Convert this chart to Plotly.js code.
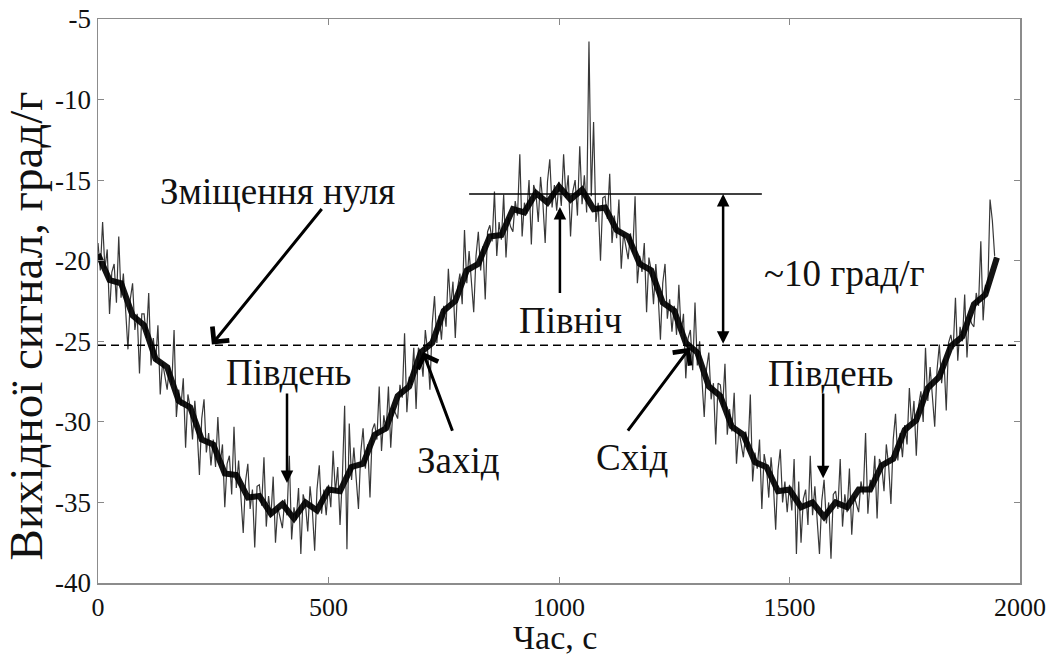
<!DOCTYPE html>
<html>
<head>
<meta charset="utf-8">
<script src="https://cdn.plot.ly/plotly-3.0.1.min.js"></script>
<style>html,body{margin:0;padding:0;background:#fff;}#chart{width:1056px;height:657px;}</style>
</head>
<body>
<div id="chart"></div>
<script>
// ---- data ----
const timeStart = 0;      // s
const timeStep = 5;       // s between raw samples
const signalValues = [
-18.9,-20.6,-17.6,-20.5,-19.3,-23.3,-20.7,-20.2,-22.6,-18.5,
-22.3,-20.8,-23.1,-25.5,-22.4,-21.4,-24.3,-23.3,-27.0,-23.3,
-23.3,-24.8,-22.0,-26.5,-24.8,-26.3,-24.0,-28.3,-26.3,-27.2,
-28.0,-26.5,-27.7,-24.3,-29.7,-28.0,-29.0,-27.3,-31.6,-28.3,
-29.1,-31.1,-28.7,-30.5,-33.3,-29.8,-28.6,-31.9,-30.7,-32.7,
-31.1,-32.8,-29.7,-32.6,-31.4,-35.3,-32.6,-32.1,-34.5,-30.3,
-34.1,-32.4,-34.7,-36.9,-33.7,-32.6,-35.4,-34.2,-37.8,-34.0,
-33.9,-35.2,-32.2,-36.5,-34.6,-35.9,-33.4,-37.5,-35.3,-36.0,
-36.6,-34.8,-35.8,-32.1,-37.3,-35.3,-36.1,-34.1,-38.2,-34.5,
-35.1,-36.8,-34.0,-35.5,-38.0,-34.2,-32.7,-35.7,-34.2,-35.8,
-33.9,-35.3,-31.8,-34.4,-32.8,-36.4,-33.5,-29.0,-37.9,-30.1,
-33.6,-31.6,-33.5,-35.4,-31.9,-30.4,-32.9,-31.4,-34.7,-30.5,
-30.1,-31.1,-27.8,-31.8,-29.6,-30.6,-27.8,-31.6,-29.1,-29.5,
-29.8,-27.7,-28.5,-24.5,-29.4,-27.2,-27.7,-25.4,-29.2,-25.4,
-25.7,-27.2,-24.3,-25.6,-28.0,-23.9,-22.2,-25.1,-23.4,-24.9,
-22.8,-24.1,-20.5,-22.9,-21.3,-24.8,-21.7,-20.8,-22.7,-18.1,
-21.4,-19.4,-21.3,-23.2,-19.7,-18.2,-20.6,-19.1,-22.4,-18.2,
-17.8,-18.8,-15.7,-19.7,-17.6,-18.7,-15.9,-19.8,-17.3,-17.9,
-18.2,-16.3,-17.2,-13.4,-18.5,-16.4,-17.1,-15.0,-19.0,-15.3,
-15.8,-17.6,-14.8,-16.4,-18.9,-15.1,-13.7,-16.7,-15.3,-16.9,
-15.1,-16.6,-13.4,-16.1,-14.7,-18.5,-15.7,-15.0,-17.2,-12.9,
-16.5,-14.7,-17.0,-6.4,-16.0,-11.4,-17.6,-16.4,-20.0,-16.1,
-16.0,-17.4,-14.6,-18.9,-17.2,-18.6,-16.2,-20.5,-18.3,-19.2,
-19.9,-18.3,-19.5,-16.0,-21.4,-19.7,-20.7,-18.9,-23.2,-19.8,
-20.6,-22.7,-20.2,-22.1,-24.9,-21.4,-20.2,-23.6,-22.4,-24.4,
-22.8,-24.6,-21.5,-24.5,-23.3,-27.3,-24.8,-24.3,-26.8,-22.6,
-26.5,-25.0,-27.3,-29.7,-26.7,-25.7,-28.6,-27.6,-31.4,-27.6,
-27.7,-29.1,-26.4,-30.8,-29.2,-30.6,-28.2,-32.6,-30.5,-31.5,
-32.2,-30.6,-31.8,-28.3,-33.7,-31.9,-32.9,-31.1,-35.4,-32.0,
-32.8,-34.7,-32.2,-33.9,-36.7,-33.0,-31.7,-35.0,-33.7,-35.6,
-33.9,-35.5,-32.3,-38.2,-33.7,-37.5,-34.8,-34.2,-36.4,-32.1,
-35.8,-34.0,-36.1,-38.2,-34.9,-33.6,-36.3,-35.0,-38.5,-34.5,
-34.3,-35.4,-32.3,-36.5,-34.5,-35.6,-32.9,-37.0,-34.6,-35.2,
-35.6,-33.7,-34.5,-30.7,-35.7,-33.6,-34.2,-32.1,-36.0,-32.3,
-32.7,-34.3,-31.4,-32.7,-35.1,-31.1,-29.5,-32.4,-30.7,-32.2,
-30.2,-31.4,-27.9,-30.3,-28.7,-32.1,-29.0,-28.1,-30.0,-25.4,
-28.7,-26.6,-28.5,-30.3,-26.8,-25.2,-27.6,-26.1,-29.3,-25.1,
-24.6,-25.5,-22.3,-26.2,-24.1,-25.0,-22.1,-26.0,-23.4,-23.9,
-24.1,-22.0,-22.8,-18.8,-23.7,-21.5,-22.0,-16.2,-17.5,-19.7
];
// dense dark core of the noisy band, read every 25 s
const coreStep = 25;
const coreValues = [
-19.6,-21.2,-21.4,-23.4,-24.0,-26.1,-26.6,-28.7,-29.1,-31.1,
-31.4,-33.2,-33.3,-34.7,-34.6,-35.7,-35.1,-36.0,-35.0,-35.5,
-34.2,-34.3,-32.8,-32.6,-30.8,-30.4,-28.4,-27.8,-25.7,-25.1,
-23.1,-22.5,-20.6,-20.2,-18.5,-18.4,-16.8,-17.0,-15.8,-16.4,
-15.4,-16.2,-15.6,-16.8,-16.7,-18.1,-18.5,-20.2,-20.6,-22.6,
-23.1,-25.1,-25.7,-27.8,-28.4,-30.3,-30.8,-32.5,-32.8,-34.3,
-34.2,-35.3,-35.0,-35.9,-35.0,-35.3,-34.2,-34.2,-32.7,-32.3,
-30.5,-29.9,-27.9,-27.2,-25.3,-24.7,-22.7,-22.1,-19.8
];
const xTickVals = [0, 500, 1000, 1500, 2000];
const yTickVals = [-40, -35, -30, -25, -20, -15, -10, -5];
const yTickText = ['-40', '-35', '-30', '-25', '-20', '-15', '-10', '-5'];
const xTitle = 'Час, с';
const yTitle = 'Вихідної сигнал, град/г';
const zeroOffsetLevel = -25.25;     // dashed line
const northLevel = -15.86;          // solid reference line
const northLineSpan = [805, 1440];
const amplitudeArrowTime = 1356;
const textLabels = ['Зміщення нуля', 'Південь', 'Північ', 'Захід', 'Схід', 'Південь', '~10 град/г'];
const textX = [390, 414, 1026, 781, 1158, 1588, 1620];
const textY = [-15.73, -26.96, -23.7, -32.4, -32.2, -26.97, -20.77];
// arrows: [tailX, tailY, headX, headY]
const openArrows = [[488, -16.7, 247, -25.2], [770, -30.64, 705, -25.67], [1147, -30.64, 1284, -25.4]];
const filledArrows = [[410, -28.15, 410, -33.8], [1002, -22.1, 1002, -16.66], [1573, -28.15, 1573, -33.5]];

const serif = 'Liberation Serif';

const noiseTrace = {
  type: 'scatter', mode: 'lines',
  x0: timeStart, dx: timeStep, y: signalValues,
  line: {color: '#383838', width: 1.2},
  hoverinfo: 'skip', showlegend: false
};
const coreTrace = {
  type: 'scatter', mode: 'lines',
  x0: timeStart, dx: coreStep, y: coreValues,
  line: {color: '#000', width: 6},
  opacity: 0.92,
  hoverinfo: 'skip', showlegend: false
};

const annotations = [];
textLabels.forEach((t, i) => annotations.push({
  x: textX[i], y: textY[i], xref: 'x', yref: 'y', text: t, showarrow: false,
  xanchor: 'center', yanchor: 'middle', font: {family: serif, size: 37, color: '#111'}
}));
openArrows.forEach(a => annotations.push({
  x: a[2], y: a[3], ax: a[0], ay: a[1], xref: 'x', yref: 'y', axref: 'x', ayref: 'y',
  text: '', showarrow: true, arrowhead: 4, arrowsize: 1.4, arrowwidth: 3, arrowcolor: '#000', standoff: 0
}));
filledArrows.forEach(a => annotations.push({
  x: a[2], y: a[3], ax: a[0], ay: a[1], xref: 'x', yref: 'y', axref: 'x', ayref: 'y',
  text: '', showarrow: true, arrowhead: 2, arrowsize: 1, arrowwidth: 2.5, arrowcolor: '#000', standoff: 0
}));
annotations.push({
  x: amplitudeArrowTime, y: northLevel, ax: amplitudeArrowTime, ay: zeroOffsetLevel,
  xref: 'x', yref: 'y', axref: 'x', ayref: 'y', text: '', showarrow: true,
  arrowhead: 2, startarrowhead: 2, arrowside: 'end+start', arrowsize: 1, startarrowsize: 1,
  arrowwidth: 2.5, arrowcolor: '#000', standoff: 0, startstandoff: 0
});
// axis titles placed as text so they sit where the reference has them
annotations.push({
  xref: 'paper', yref: 'paper', x: -0.078, y: 0.455, text: yTitle, textangle: -90,
  showarrow: false, xanchor: 'center', yanchor: 'middle',
  font: {family: serif, size: 47, color: '#111'}
});
annotations.push({
  xref: 'paper', yref: 'paper', x: 0.4957, y: -0.097, text: xTitle,
  showarrow: false, xanchor: 'center', yanchor: 'middle',
  font: {family: serif, size: 34, color: '#111'}
});

const layout = {
  width: 1056, height: 657,
  margin: {l: 98, r: 36, t: 19, b: 74},
  paper_bgcolor: '#fff', plot_bgcolor: '#fff',
  showlegend: false,
  xaxis: {
    range: [0, 2000], tickvals: xTickVals, ticks: 'inside', ticklen: 6, tickcolor: '#888',
    showline: true, linecolor: '#8c8c8c', linewidth: 1.5, mirror: 'allticks',
    showgrid: false, zeroline: false,
    tickfont: {family: serif, size: 26, color: '#111'}
  },
  yaxis: {
    range: [-40, -5], tickvals: yTickVals, ticktext: yTickText, ticks: 'inside', ticklen: 6, tickcolor: '#888',
    showline: true, linecolor: '#8c8c8c', linewidth: 1.5, mirror: 'allticks',
    showgrid: false, zeroline: false,
    tickfont: {family: serif, size: 27, color: '#111'}
  },
  shapes: [
    {type: 'line', xref: 'paper', yref: 'y', x0: 0, x1: 1, y0: zeroOffsetLevel, y1: zeroOffsetLevel,
     line: {color: '#000', width: 1.5, dash: '8px,5px'}},
    {type: 'line', xref: 'x', yref: 'y', x0: northLineSpan[0], x1: northLineSpan[1], y0: northLevel, y1: northLevel,
     line: {color: '#000', width: 1.5}}
  ],
  annotations: annotations
};

Plotly.newPlot('chart', [noiseTrace, coreTrace], layout, {staticPlot: true, displayModeBar: false});
</script>
</body>
</html>
